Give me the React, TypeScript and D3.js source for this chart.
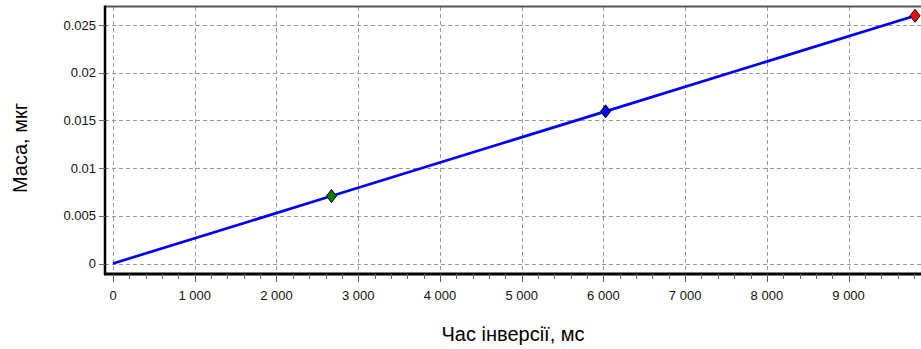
import React, { useEffect, useRef } from 'react';
import * as d3 from 'd3';

// inversion time, ms
const timeMs = [0, 2673, 6027, 9813];
// mass, mcg
const massMcg = [0, 0.00707, 0.01595, 0.02597];
// marker points (first point has no marker)
const markerColors = ['none', '#008000', '#0000ff', '#ff0000'];

const xTicks = [0, 1000, 2000, 3000, 4000, 5000, 6000, 7000, 8000, 9000];
const yTicks = [0, 0.005, 0.01, 0.015, 0.02, 0.025];

const App: React.FC = () => {
  const svgRef = useRef<SVGSVGElement>(null);

  useEffect(() => {
    if (!svgRef.current) return;
    const svg = d3.select(svgRef.current);
    svg.selectAll('*').remove();

    const width = 921;
    const height = 349;
    const axisX = 105;   // y axis line
    const axisY = 274;   // x axis line
    const topY = 6.5;    // top frame

    const x = d3.scaleLinear().domain([0, 9886]).range([113, 921]);
    const y = d3.scaleLinear().domain([0, 0.025]).range([263.5, 25]);

    const fmtX = d3.formatLocale({ decimal: '.', thousands: ' ', grouping: [3], currency: ['', ''] }).format(',');
    const fmtY = d3.format('~g');

    svg.attr('width', width).attr('height', height);

    // plot background
    svg.append('rect')
      .attr('x', axisX).attr('y', topY)
      .attr('width', width - axisX).attr('height', axisY - topY)
      .style('fill', '#fff');

    // grid
    const grid = svg.append('g')
      .style('stroke', '#999')
      .style('stroke-width', 1)
      .style('stroke-dasharray', '4,3')
      .attr('shape-rendering', 'crispEdges');

    grid.selectAll('.vgrid')
      .data(xTicks)
      .enter()
      .append('line')
      .attr('x1', d => Math.round(x(d)) + 0.5)
      .attr('x2', d => Math.round(x(d)) + 0.5)
      .attr('y1', topY)
      .attr('y2', axisY);

    grid.selectAll('.hgrid')
      .data(yTicks)
      .enter()
      .append('line')
      .attr('x1', axisX)
      .attr('x2', width)
      .attr('y1', d => Math.round(y(d)) + 0.5)
      .attr('y2', d => Math.round(y(d)) + 0.5);

    // top frame
    svg.append('line')
      .attr('x1', axisX).attr('x2', width)
      .attr('y1', topY).attr('y2', topY)
      .style('stroke', '#555')
      .style('stroke-width', 2);

    // y axis
    const yAxis = svg.append('g');
    yAxis.append('line')
      .attr('x1', axisX).attr('x2', axisX)
      .attr('y1', topY - 1).attr('y2', axisY + 1)
      .style('stroke', '#000')
      .style('stroke-width', 2.5);
    yAxis.selectAll('.ytick')
      .data(yTicks)
      .enter()
      .append('line')
      .attr('x1', axisX - 6).attr('x2', axisX)
      .attr('y1', d => Math.round(y(d)) + 0.5)
      .attr('y2', d => Math.round(y(d)) + 0.5)
      .style('stroke', '#666')
      .style('stroke-width', 1);
    yAxis.selectAll('.ylabel')
      .data(yTicks)
      .enter()
      .append('text')
      .attr('x', axisX - 9)
      .attr('y', d => y(d))
      .attr('dy', '0.35em')
      .attr('text-anchor', 'end')
      .style('font-family', '"Liberation Sans", Arial, sans-serif')
      .style('font-size', '13px')
      .style('fill', '#111')
      .text(d => fmtY(d));

    // x axis
    const xAxis = svg.append('g');
    xAxis.append('line')
      .attr('x1', axisX - 1).attr('x2', width)
      .attr('y1', axisY).attr('y2', axisY)
      .style('stroke', '#000')
      .style('stroke-width', 3);
    const minor = d3.range(0, 9801, 200).filter(v => v % 1000 !== 0);
    xAxis.selectAll('.xminor')
      .data(minor)
      .enter()
      .append('line')
      .attr('x1', d => Math.round(x(d)) + 0.5)
      .attr('x2', d => Math.round(x(d)) + 0.5)
      .attr('y1', axisY).attr('y2', axisY + 5)
      .style('stroke', '#666');
    xAxis.selectAll('.xtick')
      .data(xTicks)
      .enter()
      .append('line')
      .attr('x1', d => Math.round(x(d)) + 0.5)
      .attr('x2', d => Math.round(x(d)) + 0.5)
      .attr('y1', axisY).attr('y2', axisY + 8)
      .style('stroke', '#555');
    xAxis.selectAll('.xlabel')
      .data(xTicks)
      .enter()
      .append('text')
      .attr('x', d => x(d))
      .attr('y', 300)
      .attr('text-anchor', 'middle')
      .style('font-family', '"Liberation Sans", Arial, sans-serif')
      .style('font-size', '13px')
      .style('fill', '#111')
      .text(d => fmtX(d));

    // data line
    const pts = timeMs.map((t, i) => ({ t, m: massMcg[i], c: markerColors[i] }));
    const line = d3.line<{ t: number; m: number }>()
      .x(d => x(d.t))
      .y(d => y(d.m));
    svg.append('path')
      .datum(pts)
      .attr('d', line)
      .style('fill', 'none')
      .style('stroke', '#0000ff')
      .style('stroke-width', 2.7);

    // diamond markers
    const diamond = 'M0,-6.5L5,0L0,6.5L-5,0Z';
    svg.selectAll('.marker')
      .data(pts.filter(p => p.c !== 'none'))
      .enter()
      .append('path')
      .attr('d', diamond)
      .attr('transform', d => `translate(${x(d.t)},${y(d.m)})`)
      .style('fill', d => d.c)
      .style('stroke', '#000')
      .style('stroke-width', 1);

    // axis titles
    svg.append('text')
      .attr('x', 513)
      .attr('y', 341)
      .attr('text-anchor', 'middle')
      .style('font-family', '"Liberation Sans", Arial, sans-serif')
      .style('font-size', '20px')
      .style('fill', '#000')
      .text('Час інверсії, мс');

    svg.append('text')
      .attr('transform', 'translate(27,148) rotate(-90)')
      .attr('text-anchor', 'middle')
      .style('font-family', '"Liberation Sans", Arial, sans-serif')
      .style('font-size', '20px')
      .style('fill', '#000')
      .text('Маса, мкг');
  }, []);

  return (
    <div style={{ position: 'absolute', left: 0, top: 0, background: '#fff' }}>
      <svg ref={svgRef} style={{ display: 'block' }} />
    </div>
  );
};

export default App;
